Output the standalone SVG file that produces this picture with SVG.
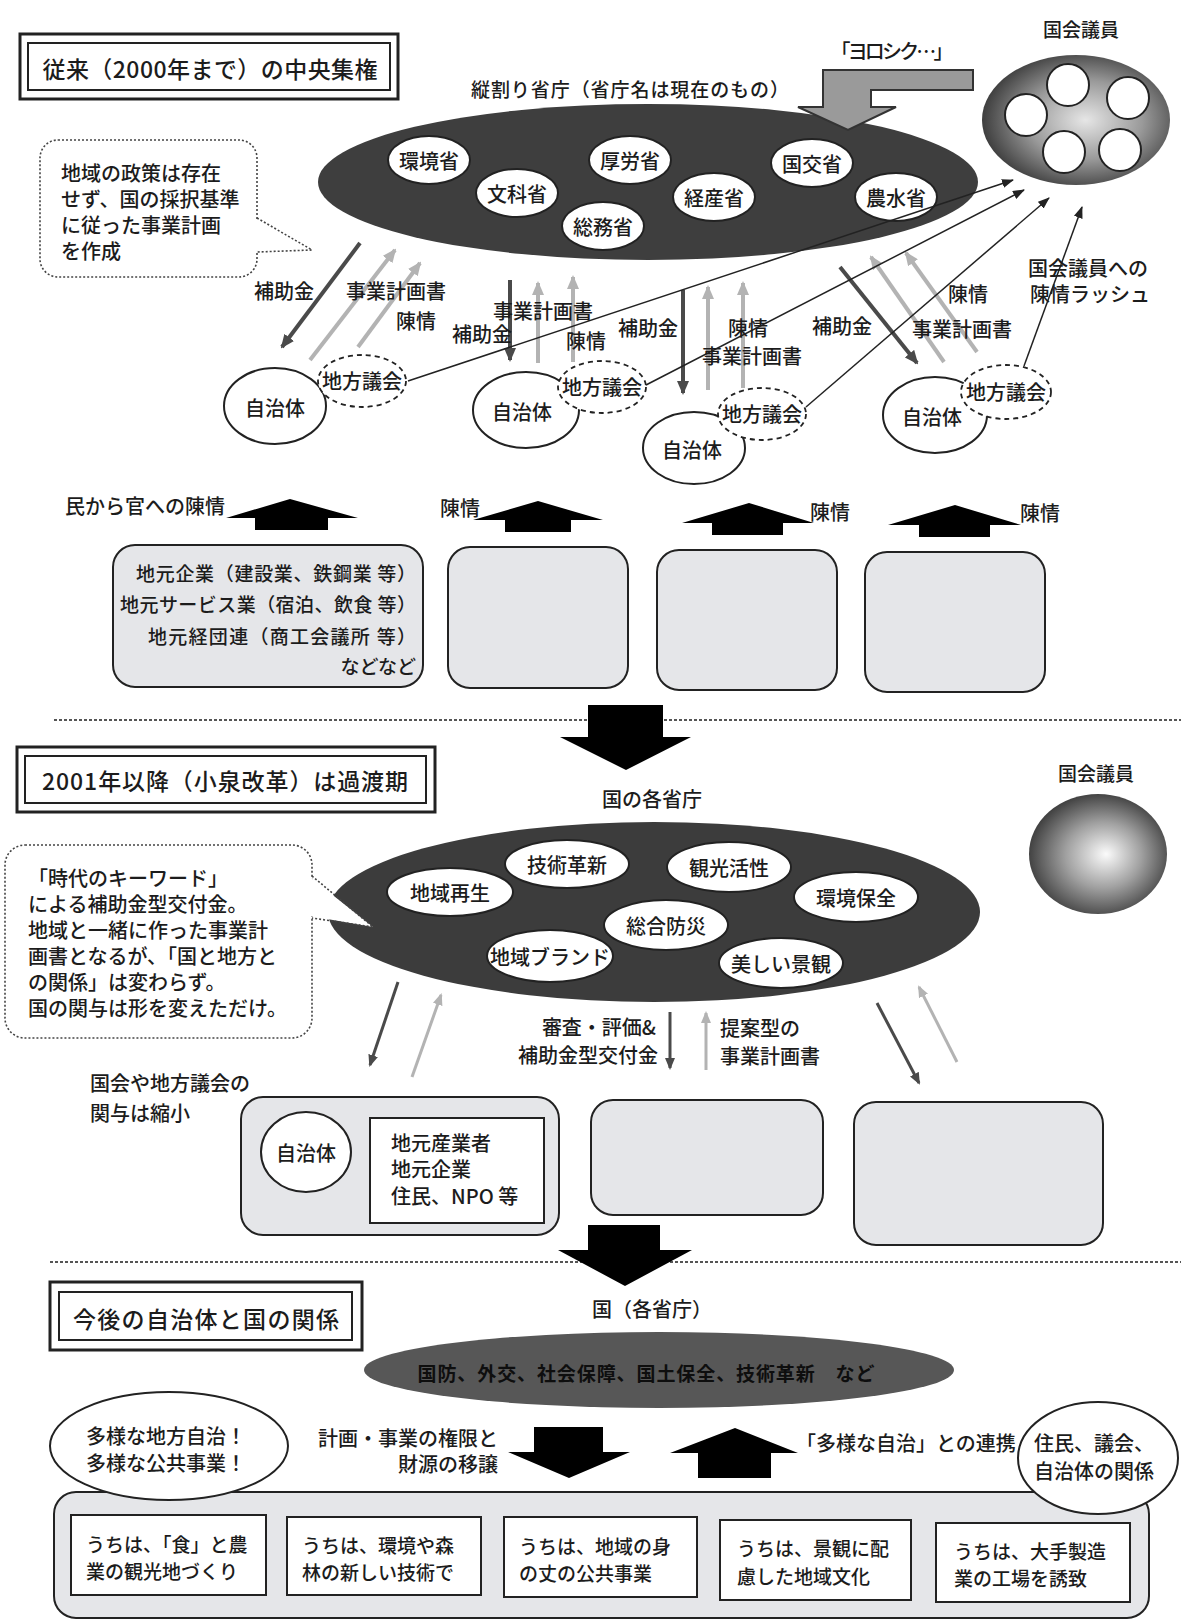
<svg xmlns="http://www.w3.org/2000/svg" width="1181" height="1622" viewBox="0 0 1181 1622">
<style>
.t{font-family:"Noto Sans CJK JP","Noto Sans",sans-serif;fill:#1c1c1c;font-size:20px;font-weight:500}
.c{text-anchor:middle;dominant-baseline:central}
.l{dominant-baseline:central}
.r{text-anchor:end;dominant-baseline:central}
.ti{font-size:23px}
.s19{font-size:19px}
.bd{font-weight:bold;fill:#0e0e0e}
.wo{fill:#fff;stroke:#222;stroke-width:2}
.dash{fill:#fff;stroke:#222;stroke-width:1.8;stroke-dasharray:5 4}
.box{fill:#e5e6e9;stroke:#222;stroke-width:2}
.dot{fill:#fff;stroke:#444;stroke-width:1.6;stroke-dasharray:2 2}
.sep{stroke:#555;stroke-width:2;stroke-dasharray:3 2}
.dk{stroke:#4a4a4a;stroke-width:4;fill:none;marker-end:url(#mD)}
.lt{stroke:#b3b3b3;stroke-width:4;fill:none;marker-end:url(#mL)}
.dk2{stroke:#4a4a4a;stroke-width:3;fill:none;marker-end:url(#mD2)}
.lt2{stroke:#b3b3b3;stroke-width:3;fill:none;marker-end:url(#mL2)}
.th{stroke:#222;stroke-width:1.5;fill:none;marker-end:url(#mT)}
.blk{fill:#000}
</style>
<defs>
<marker id="mD" markerUnits="userSpaceOnUse" viewBox="0 0 14 12" refX="12" refY="6" markerWidth="14" markerHeight="12" orient="auto"><path d="M0,0 L14,6 L0,12 z" fill="#4a4a4a"/></marker>
<marker id="mL" markerUnits="userSpaceOnUse" viewBox="0 0 14 12" refX="12" refY="6" markerWidth="14" markerHeight="12" orient="auto"><path d="M0,0 L14,6 L0,12 z" fill="#b3b3b3"/></marker>
<marker id="mD2" markerUnits="userSpaceOnUse" viewBox="0 0 12 10" refX="10" refY="5" markerWidth="12" markerHeight="10" orient="auto"><path d="M0,0 L12,5 L0,10 z" fill="#4a4a4a"/></marker>
<marker id="mL2" markerUnits="userSpaceOnUse" viewBox="0 0 12 10" refX="10" refY="5" markerWidth="12" markerHeight="10" orient="auto"><path d="M0,0 L12,5 L0,10 z" fill="#b3b3b3"/></marker>
<marker id="mT" markerUnits="userSpaceOnUse" viewBox="0 0 12 9" refX="11" refY="4.5" markerWidth="12" markerHeight="9" orient="auto"><path d="M0,0 L12,4.5 L0,9 z" fill="#222"/></marker>
<radialGradient id="gOval" cx="0.55" cy="0.5" r="0.55"><stop offset="0" stop-color="#e6e6e6"/><stop offset="0.55" stop-color="#9a9a9a"/><stop offset="1" stop-color="#3e3e3e"/></radialGradient>
<radialGradient id="gSphere" cx="0.52" cy="0.52" r="0.55" fx="0.56" fy="0.5"><stop offset="0" stop-color="#fbfbfb"/><stop offset="0.5" stop-color="#a0a0a0"/><stop offset="1" stop-color="#383838"/></radialGradient>
</defs>
<rect width="1181" height="1622" fill="#fff"/>

<!-- separators -->
<line class="sep" x1="54" y1="720" x2="1181" y2="720"/>
<line class="sep" x1="50" y1="1262" x2="1181" y2="1262"/>

<!-- ===== Section 1 ===== -->
<g id="title1">
<rect x="20" y="34" width="378" height="65" fill="#fff" stroke="#222" stroke-width="3"/>
<rect x="28" y="43" width="362" height="47" fill="none" stroke="#222" stroke-width="2"/>
<text class="t c ti" x="210" y="68" textLength="335">従来（2000年まで）の中央集権</text>
</g>
<text class="t c s19" x="630" y="88" textLength="318">縦割り省庁（省庁名は現在のもの）</text>
<text class="t c" x="892" y="50" textLength="123">「ヨロシク…」</text>

<g id="ministries">
<ellipse cx="648" cy="182" rx="330" ry="78" fill="#3e3e3e"/>
<g id="m-kankyo"><ellipse class="wo" cx="429" cy="160" rx="41" ry="24"/><text class="t c" x="429" y="160">環境省</text></g>
<g id="m-monka"><ellipse class="wo" cx="517" cy="193" rx="41" ry="24"/><text class="t c" x="517" y="193">文科省</text></g>
<g id="m-koro"><ellipse class="wo" cx="630" cy="160" rx="41" ry="24"/><text class="t c" x="630" y="160">厚労省</text></g>
<g id="m-somu"><ellipse class="wo" cx="603" cy="226" rx="41" ry="24"/><text class="t c" x="603" y="226">総務省</text></g>
<g id="m-keisan"><ellipse class="wo" cx="714" cy="197" rx="41" ry="24"/><text class="t c" x="714" y="197">経産省</text></g>
<g id="m-kokko"><ellipse class="wo" cx="812" cy="163" rx="41" ry="24"/><text class="t c" x="812" y="163">国交省</text></g>
<g id="m-nosui"><ellipse class="wo" cx="896" cy="197" rx="41" ry="24"/><text class="t c" x="896" y="197">農水省</text></g>
</g>

<g id="yoroshiku-arrow">
<polygon points="973,70 823,70 823,107 798,107 848,130 896,107 871,107 871,90 973,90" fill="#9a9a9a" stroke="#333" stroke-width="2"/>
</g>

<g id="diet1">
<text class="t c s19" x="1081" y="28">国会議員</text>
<ellipse cx="1076" cy="120" rx="94" ry="65" fill="url(#gOval)"/>
<circle class="wo" cx="1068" cy="85" r="21"/>
<circle class="wo" cx="1128" cy="98" r="21"/>
<circle class="wo" cx="1026" cy="115" r="21"/>
<circle class="wo" cx="1064" cy="152" r="21"/>
<circle class="wo" cx="1120" cy="150" r="21"/>
</g>

<g id="callout1">
<rect class="dot" x="40" y="140" width="217" height="137" rx="18"/>
<polygon points="255,219 312,250 255,251" fill="#fff"/>
<polyline points="257,218 312,250 257,252" fill="none" stroke="#444" stroke-width="1.6" stroke-dasharray="2 2"/>
<text class="t l" x="61" y="172">地域の政策は存在</text>
<text class="t l" x="61" y="198">せず、国の採択基準</text>
<text class="t l" x="61" y="224">に従った事業計画</text>
<text class="t l" x="61" y="250">を作成</text>
</g>

<g id="local1">
<ellipse class="wo" cx="275" cy="406" rx="51" ry="38"/><text class="t c" x="275" y="407">自治体</text>
<ellipse class="dash" cx="362" cy="381" rx="44" ry="26"/><text class="t c" x="362" y="380">地方議会</text>
</g>
<g id="local2">
<ellipse class="wo" cx="526" cy="410" rx="53" ry="38"/><text class="t c" x="522" y="411">自治体</text>
<ellipse class="dash" cx="602" cy="387" rx="44" ry="26"/><text class="t c" x="602" y="386">地方議会</text>
</g>
<g id="local3">
<ellipse class="wo" cx="694" cy="448" rx="51" ry="36"/><text class="t c" x="692" y="449">自治体</text>
<ellipse class="dash" cx="762" cy="414" rx="44" ry="26"/><text class="t c" x="762" y="413">地方議会</text>
</g>
<g id="local4">
<ellipse class="wo" cx="935" cy="415" rx="52" ry="38"/><text class="t c" x="932" y="416">自治体</text>
<ellipse class="dash" cx="1006" cy="392" rx="45" ry="27"/><text class="t c" x="1006" y="391">地方議会</text>
</g>

<g id="connectors1">
<line class="dk" x1="360" y1="243" x2="282" y2="347"/>
<line class="lt" x1="310" y1="360" x2="395" y2="250"/>
<line class="lt" x1="358" y1="347" x2="420" y2="263"/>
<line class="dk" x1="510" y1="280" x2="510" y2="360"/>
<line class="lt" x1="538" y1="363" x2="538" y2="283"/>
<line class="lt" x1="573" y1="362" x2="573" y2="277"/>
<line class="dk" x1="683" y1="290" x2="683" y2="393"/>
<line class="lt" x1="708" y1="390" x2="708" y2="287"/>
<line class="lt" x1="743" y1="388" x2="743" y2="283"/>
<line class="dk" x1="840" y1="267" x2="917" y2="363"/>
<line class="lt" x1="944" y1="362" x2="871" y2="257"/>
<line class="lt" x1="977" y1="352" x2="906" y2="253"/>
<line class="th" x1="408" y1="381" x2="1013" y2="180"/>
<line class="th" x1="646" y1="385" x2="1024" y2="190"/>
<line class="th" x1="806" y1="407" x2="1049" y2="198"/>
<line class="th" x1="1024" y1="366" x2="1082" y2="207"/>
</g>

<g id="labels1">
<text class="t c" x="284" y="290">補助金</text>
<text class="t c" x="396" y="290">事業計画書</text>
<text class="t c" x="416" y="320">陳情</text>
<text class="t c" x="543" y="310">事業計画書</text>
<text class="t c" x="482" y="333">補助金</text>
<text class="t c" x="586" y="340">陳情</text>
<text class="t c" x="648" y="327">補助金</text>
<text class="t c" x="748" y="327">陳情</text>
<text class="t c" x="752" y="355">事業計画書</text>
<text class="t c" x="842" y="325">補助金</text>
<text class="t c" x="962" y="328">事業計画書</text>
<text class="t c" x="968" y="293">陳情</text>
<text class="t l" x="1028" y="267">国会議員への</text>
<text class="t l" x="1030" y="293">陳情ラッシュ</text>
</g>

<!-- petition block arrows -->
<g id="petitions">
<text class="t l" x="65" y="505">民から官への陳情</text>
<polygon class="blk" points="226,518 290,499 358,518 328,518 328,530 255,530 255,518"/>
<text class="t l" x="440" y="507">陳情</text>
<polygon class="blk" points="473,520 538,501 603,520 571,520 571,532 505,532 505,520"/>
<text class="t l" x="810" y="511">陳情</text>
<polygon class="blk" points="682,523 749,503 814,523 783,523 783,535 712,535 712,523"/>
<text class="t l" x="1020" y="512">陳情</text>
<polygon class="blk" points="888,525 955,505 1021,525 990,525 990,537 919,537 919,525"/>
</g>

<g id="privbox1">
<rect class="box" x="113" y="545" width="310" height="142" rx="22"/>
<text class="t r s19" x="416" y="572" textLength="280">地元企業（建設業、鉄鋼業 等）</text>
<text class="t r s19" x="416" y="603" textLength="296">地元サービス業（宿泊、飲食 等）</text>
<text class="t r s19" x="416" y="635" textLength="268">地元経団連（商工会議所 等）</text>
<text class="t r s19" x="416" y="665">などなど</text>
</g>
<g id="privbox2"><rect class="box" x="448" y="547" width="180" height="141" rx="22"/></g>
<g id="privbox3"><rect class="box" x="657" y="550" width="180" height="140" rx="22"/></g>
<g id="privbox4"><rect class="box" x="865" y="552" width="180" height="140" rx="22"/></g>

<g id="bigdown1"><polygon class="blk" points="588,705 663,705 663,737 691,737 626,770 560,737 588,737"/></g>

<!-- ===== Section 2 ===== -->
<g id="title2">
<rect x="17" y="747" width="418" height="65" fill="#fff" stroke="#222" stroke-width="3"/>
<rect x="25" y="756" width="401" height="47" fill="none" stroke="#222" stroke-width="2"/>
<text class="t c ti" x="225" y="780" textLength="366">2001年以降（小泉改革）は過渡期</text>
</g>
<text class="t c" x="652" y="798">国の各省庁</text>

<g id="diet2">
<text class="t c s19" x="1096" y="772">国会議員</text>
<ellipse cx="1098" cy="854" rx="69" ry="60" fill="url(#gSphere)"/>
</g>

<g id="keywords">
<ellipse cx="654" cy="912" rx="326" ry="90" fill="#3c3c3c"/>
<g id="k1"><ellipse class="wo" cx="567" cy="864" rx="62" ry="24"/><text class="t c" x="567" y="864">技術革新</text></g>
<g id="k2"><ellipse class="wo" cx="450" cy="892" rx="63" ry="24"/><text class="t c" x="450" y="892">地域再生</text></g>
<g id="k3"><ellipse class="wo" cx="729" cy="867" rx="62" ry="25"/><text class="t c" x="729" y="867">観光活性</text></g>
<g id="k4"><ellipse class="wo" cx="856" cy="897" rx="62" ry="25"/><text class="t c" x="856" y="897">環境保全</text></g>
<g id="k5"><ellipse class="wo" cx="666" cy="925" rx="62" ry="25"/><text class="t c" x="666" y="925">総合防災</text></g>
<g id="k6"><ellipse class="wo" cx="550" cy="956" rx="63" ry="26"/><text class="t c" x="550" y="956">地域ブランド</text></g>
<g id="k7"><ellipse class="wo" cx="781" cy="963" rx="62" ry="25"/><text class="t c" x="781" y="963">美しい景観</text></g>
</g>

<g id="callout2">
<rect class="dot" x="5" y="845" width="307" height="193" rx="20"/>
<polygon points="310,877 373,927 310,916" fill="#fff"/>
<polyline points="312,876 373,927 312,918" fill="none" stroke="#444" stroke-width="1.6" stroke-dasharray="2 2"/>
<text class="t l" x="28" y="877">「時代のキーワード」</text>
<text class="t l" x="28" y="903">による補助金型交付金。</text>
<text class="t l" x="28" y="929">地域と一緒に作った事業計</text>
<text class="t l" x="28" y="955">画書となるが、「国と地方と</text>
<text class="t l" x="28" y="981">の関係」は変わらず。</text>
<text class="t l" x="28" y="1007">国の関与は形を変えただけ。</text>
</g>

<g id="connectors2">
<line class="dk2" x1="398" y1="982" x2="370" y2="1065"/>
<line class="lt2" x1="412" y1="1077" x2="441" y2="995"/>
<line class="dk2" x1="670" y1="1012" x2="670" y2="1068"/>
<line class="lt2" x1="706" y1="1070" x2="706" y2="1013"/>
<line class="dk2" x1="877" y1="1003" x2="919" y2="1083"/>
<line class="lt2" x1="957" y1="1062" x2="919" y2="987"/>
</g>
<g id="labels2">
<text class="t r" x="656" y="1026">審査・評価&amp;</text>
<text class="t r" x="658" y="1054">補助金型交付金</text>
<text class="t l" x="720" y="1027">提案型の</text>
<text class="t l" x="720" y="1055">事業計画書</text>
<text class="t l" x="90" y="1082">国会や地方議会の</text>
<text class="t l" x="90" y="1112">関与は縮小</text>
</g>

<g id="localbox1">
<rect class="box" x="241" y="1097" width="318" height="138" rx="22"/>
<ellipse class="wo" cx="306" cy="1152" rx="45" ry="40"/><text class="t c" x="306" y="1152">自治体</text>
<rect x="370" y="1118" width="174" height="105" fill="#fff" stroke="#222" stroke-width="2"/>
<text class="t l" x="391" y="1142">地元産業者</text>
<text class="t l" x="391" y="1168">地元企業</text>
<text class="t l" x="391" y="1195">住民、NPO 等</text>
</g>
<g id="localbox2"><rect class="box" x="591" y="1100" width="232" height="115" rx="22"/></g>
<g id="localbox3"><rect class="box" x="854" y="1102" width="249" height="143" rx="22"/></g>

<g id="bigdown2"><polygon class="blk" points="588,1225 660,1225 660,1250 692,1250 625,1286 558,1250 588,1250"/></g>

<!-- ===== Section 3 ===== -->
<g id="title3">
<rect x="50" y="1282" width="312" height="68" fill="#fff" stroke="#222" stroke-width="3"/>
<rect x="59" y="1292" width="293" height="48" fill="none" stroke="#222" stroke-width="2"/>
<text class="t c ti" x="206" y="1318" textLength="266">今後の自治体と国の関係</text>
</g>
<text class="t c" x="652" y="1308">国（各省庁）</text>

<g id="state">
<ellipse cx="659" cy="1370" rx="295" ry="38" fill="#575757"/>
<text class="t c s19 bd" x="646" y="1372" textLength="457">国防、外交、社会保障、国土保全、技術革新　など</text>
</g>

<g id="transfer">
<text class="t r" x="498" y="1437">計画・事業の権限と</text>
<text class="t r" x="498" y="1463">財源の移譲</text>
<polygon class="blk" points="534,1427 603,1427 603,1452 630,1452 569,1478 508,1452 534,1452"/>
<polygon class="blk" points="670,1453 735,1428 798,1453 771,1453 771,1478 698,1478 698,1453"/>
<text class="t l" x="796" y="1442">「多様な自治」との連携</text>
</g>

<g id="localities">
<rect class="box" x="54" y="1492" width="1095" height="126" rx="22"/>
<g id="u1"><rect x="71" y="1515" width="195" height="80" fill="#fff" stroke="#222" stroke-width="2"/>
<text class="t l s19" x="86" y="1543">うちは、「食」と農</text><text class="t l s19" x="86" y="1570">業の観光地づくり</text></g>
<g id="u2"><rect x="287" y="1517" width="194" height="78" fill="#fff" stroke="#222" stroke-width="2"/>
<text class="t l s19" x="302" y="1544">うちは、環境や森</text><text class="t l s19" x="302" y="1571">林の新しい技術で</text></g>
<g id="u3"><rect x="504" y="1517" width="193" height="80" fill="#fff" stroke="#222" stroke-width="2"/>
<text class="t l s19" x="519" y="1545">うちは、地域の身</text><text class="t l s19" x="519" y="1572">の丈の公共事業</text></g>
<g id="u4"><rect x="720" y="1520" width="191" height="80" fill="#fff" stroke="#222" stroke-width="2"/>
<text class="t l s19" x="737" y="1547">うちは、景観に配</text><text class="t l s19" x="737" y="1575">慮した地域文化</text></g>
<g id="u5"><rect x="936" y="1523" width="194" height="79" fill="#fff" stroke="#222" stroke-width="2"/>
<text class="t l s19" x="954" y="1550">うちは、大手製造</text><text class="t l s19" x="954" y="1577">業の工場を誘致</text></g>
</g>

<g id="diverse">
<ellipse class="wo" cx="169" cy="1446" rx="119" ry="54"/>
<text class="t c" x="166" y="1435">多様な地方自治！</text>
<text class="t c" x="166" y="1462">多様な公共事業！</text>
</g>
<g id="residents">
<ellipse class="wo" cx="1098" cy="1458" rx="80" ry="56"/>
<text class="t l" x="1034" y="1442">住民、議会、</text>
<text class="t l" x="1034" y="1470">自治体の関係</text>
</g>
</svg>
